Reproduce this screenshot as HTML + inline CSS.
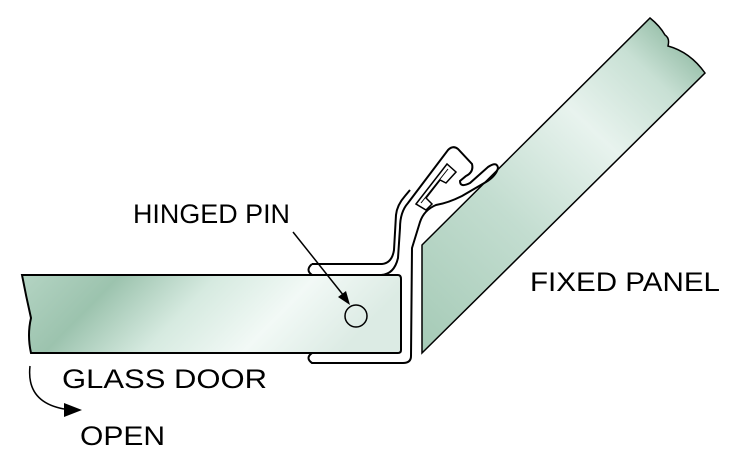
<!DOCTYPE html>
<html><head><style>
html,body{margin:0;padding:0;background:#fff;}
svg{display:block;}
text{font-family:"Liberation Sans",sans-serif;font-size:27px;fill:#000;}
</style></head><body>
<svg width="749" height="458" viewBox="0 0 749 458" xmlns="http://www.w3.org/2000/svg">
<defs>
<linearGradient id="g1" x1="0" y1="0" x2="1" y2="0.2">
<stop offset="0" stop-color="#b4d4c3"/><stop offset="0.25" stop-color="#9cc3ae"/>
<stop offset="0.5" stop-color="#d6eae0"/><stop offset="0.75" stop-color="#f2f9f6"/><stop offset="1" stop-color="#dcebe4"/>
</linearGradient>
<linearGradient id="g2" x1="0" y1="1" x2="0.8" y2="0">
<stop offset="0" stop-color="#a5cab6"/><stop offset="0.4" stop-color="#c3ddd0"/>
<stop offset="0.7" stop-color="#e8f3ee"/><stop offset="0.9" stop-color="#c8e0d4"/><stop offset="1" stop-color="#9fc4b0"/>
</linearGradient>
</defs>
<!-- fixed panel -->
<path d="M422,245 L650,18 Q660,26 665,35 Q670,38 668,46 Q690,52 705,73 L422,353 Z" fill="url(#g2)" stroke="#000" stroke-width="1.5"/>
<!-- glass door -->
<path d="M22,275 L398,275 Q401,275 401,279 L401,350 Q401,353 398,353 L31,353 Q27,335 31,318 Q26,296 22,275 Z" fill="url(#g1)" stroke="#000" stroke-width="2"/>
<!-- profile -->
<path d="M312,264 Q305,270 312,275 L380,275 Q394,275 398,258 L400,228 Q400,212 408,203 L448,150 Q453,145 458,149 L472,164 Q474,172 466,176 L460,181 Q460,188 470,183 L488,167 Q497,161 498,168 Q496,176 486,182 L462,196 Q448,203 436,205 Q424,210 420,222 L412,248 L411,356 Q411,363 403,363 L312,363 Q305,358 312,353" fill="none" stroke="#000" stroke-width="2"/>
<path d="M312,264 L382,264 Q392,263 394,250 L396,215 Q397,205 405,196 L410,190" fill="none" stroke="#000" stroke-width="2"/>
<path d="M416,204 L447,164 L456,172 L446,183 L440,180 L426,198 L432,204 L426,210 Z" fill="none" stroke="#000" stroke-width="1.5"/>
<path d="M421,203 L448,169" stroke="#000" stroke-width="1"/>
<!-- pin -->
<circle cx="356" cy="316" r="11" fill="none" stroke="#000" stroke-width="1.5"/>
<line x1="293" y1="232" x2="344" y2="296" stroke="#000" stroke-width="1.5"/>
<path d="M350,305 L338,297 L346,291 Z" fill="#000"/>
<!-- open arrow -->
<path d="M30,366 Q26,402 64,409" fill="none" stroke="#000" stroke-width="1.5"/>
<path d="M82,410 L64,403 L64,417 Z" fill="#000"/>
<text x="133" y="223" textLength="157" lengthAdjust="spacingAndGlyphs">HINGED PIN</text>
<text x="530" y="291" textLength="190" lengthAdjust="spacingAndGlyphs">FIXED PANEL</text>
<text x="62" y="388" textLength="205" lengthAdjust="spacingAndGlyphs">GLASS DOOR</text>
<text x="80" y="445" textLength="85" lengthAdjust="spacingAndGlyphs">OPEN</text>
</svg>
</body></html>
